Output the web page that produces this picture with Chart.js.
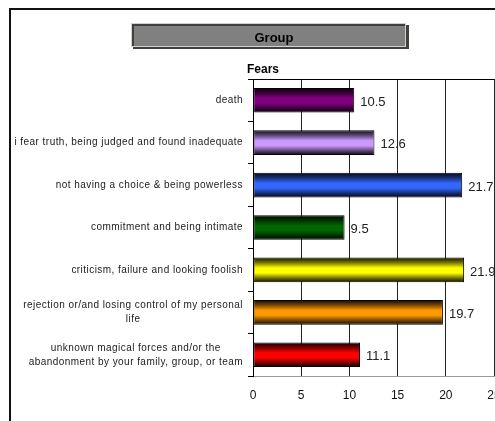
<!DOCTYPE html>
<html>
<head>
<meta charset="utf-8">
<script src="https://cdn.jsdelivr.net/npm/chart.js@4/dist/chart.umd.min.js"></script>
<style>
  html, body { margin: 0; padding: 0; background: #fff; }
  #chart { display: block; }
</style>
</head>
<body>
<canvas id="chart" width="495" height="421"></canvas>
<script>
// chart data
const chartLabels = [
    'death',
    'i fear truth, being judged and found inadequate',
    'not having a choice & being powerless',
    'commitment and being intimate',
    'criticism, failure and looking foolish',
    ['rejection or/and losing control of my personal', 'life'],
    ['unknown magical forces and/or the', 'abandonment by your family, group, or team']
]
const chartData = [10.5, 12.6, 21.7, 9.5, 21.9, 19.7, 11.1]
const barColors = ['#800080', '#CC99FF', '#3366FF', '#006600', '#FFFF00', '#FF9900', '#FF0000']
const xTicks = [0, 5, 10, 15, 20, 25]

const barPct = 0.58

function shade(hex, f) {
    const n = parseInt(hex.slice(1), 16)
    const r = Math.round(((n >> 16) & 255) * f)
    const g = Math.round(((n >> 8) & 255) * f)
    const b = Math.round((n & 255) * f)
    return `rgb(${r},${g},${b})`
}

// cylinder look: dark edges, bright middle
function barFill(ctx) {
    const chart = ctx.chart
    const yScale = chart.scales.y
    const base = barColors[ctx.dataIndex]
    if (!chart.chartArea || !yScale) return base
    const yc = yScale.getPixelForValue(ctx.dataIndex)
    const half = (yScale.height / chartLabels.length) * barPct / 2
    const g = chart.ctx.createLinearGradient(0, yc - half, 0, yc + half)
    g.addColorStop(0, shade(base, 0.08))
    g.addColorStop(0.2, shade(base, 0.45))
    g.addColorStop(0.42, base)
    g.addColorStop(0.62, base)
    g.addColorStop(0.85, shade(base, 0.4))
    g.addColorStop(1, shade(base, 0.05))
    return g
}

const decorations = {
    id: 'decorations',
    beforeDraw(chart) {
        const c = chart.ctx
        c.save()
        // outer frame
        c.strokeStyle = '#111'
        c.lineWidth = 2
        c.strokeRect(10, 9, 700, 700)
        // title box with shadow
        c.fillStyle = '#404040'
        c.fillRect(133, 25, 276, 24)
        c.fillStyle = '#808080'
        c.fillRect(131, 23, 275, 24)
        c.strokeStyle = '#d4d0c8'
        c.lineWidth = 1
        c.strokeRect(131.5, 23.5, 274, 23)
        c.strokeStyle = '#404040'
        c.lineWidth = 2
        c.beginPath()
        c.moveTo(133, 46)
        c.lineTo(133, 25)
        c.lineTo(405, 25)
        c.stroke()
        c.fillStyle = '#000'
        c.font = 'bold 13px "Liberation Sans", Arial, sans-serif'
        c.textAlign = 'center'
        c.textBaseline = 'middle'
        c.fillText('Group', 274, 38)
        c.textAlign = 'left'
        c.font = 'bold 12px "Liberation Sans", Arial, sans-serif'
        c.fillText('Fears', 247, 70)
        c.restore()
    },
    afterDraw(chart) {
        const c = chart.ctx
        const yScale = chart.scales.y
        c.save()
        // category labels, multi-line ones centered inside their block
        c.font = '10px "Liberation Sans", Arial, sans-serif'
        c.letterSpacing = '0.45px'
        c.fillStyle = '#222'
        c.textBaseline = 'middle'
        c.textAlign = 'center'
        const right = 243
        const lh = 14
        chartLabels.forEach((lab, i) => {
            const lines = Array.isArray(lab) ? lab : [lab]
            const w = Math.max(...lines.map(l => c.measureText(l).width))
            const cx = right - w / 2
            const yc = yScale.getPixelForValue(i)
            lines.forEach((l, k) => {
                c.fillText(l, cx, yc + (k - (lines.length - 1) / 2) * lh)
            })
        })
        c.letterSpacing = '0px'
        // value labels
        c.font = '13px "Liberation Sans", Arial, sans-serif'
        c.textAlign = 'left'
        c.fillStyle = '#222'
        chart.getDatasetMeta(0).data.forEach((bar, i) => {
            c.fillText(chartData[i].toFixed(1), bar.x + 6, bar.y + 2)
        })
        c.restore()
    }
}

function initChart() {
    const ctx = document.getElementById('chart').getContext('2d')
    new Chart(ctx, {
        type: 'bar',
        data: {
            labels: chartLabels,
            datasets: [{
                data: chartData,
                backgroundColor: barFill,
                borderColor: '#000',
                borderWidth: 1,
                borderSkipped: false,
                categoryPercentage: 1,
                barPercentage: barPct
            }]
        },
        options: {
            indexAxis: 'y',
            responsive: false,
            animation: false,
            layout: { padding: { top: 79, right: 1, left: 0, bottom: 0 } },
            plugins: {
                legend: { display: false },
                tooltip: { enabled: false },
                title: { display: false }
            },
            scales: {
                x: {
                    min: 0,
                    max: 25,
                    afterBuildTicks: s => { s.ticks = xTicks.map(v => ({ value: v })) },
                    afterFit: s => { s.height = 45; s.paddingRight = 0; s.paddingLeft = 0 },
                    grid: {
                        color: '#222',
                        drawTicks: false
                    },
                    border: { color: '#999', width: 1 },
                    ticks: {
                        padding: 12,
                        color: '#111',
                        font: { family: '"Liberation Sans", Arial, sans-serif', size: 12 }
                    }
                },
                y: {
                    afterFit: s => { s.width = 253 },
                    grid: {
                        offset: true,
                        color: c => c.index === 0 ? '#000' : 'rgba(0,0,0,0)',
                        tickColor: '#000',
                        tickLength: 5
                    },
                    border: { color: '#000', width: 1 },
                    ticks: { display: false }
                }
            }
        },
        plugins: [decorations]
    })
}

initChart()
</script>
</body>
</html>
